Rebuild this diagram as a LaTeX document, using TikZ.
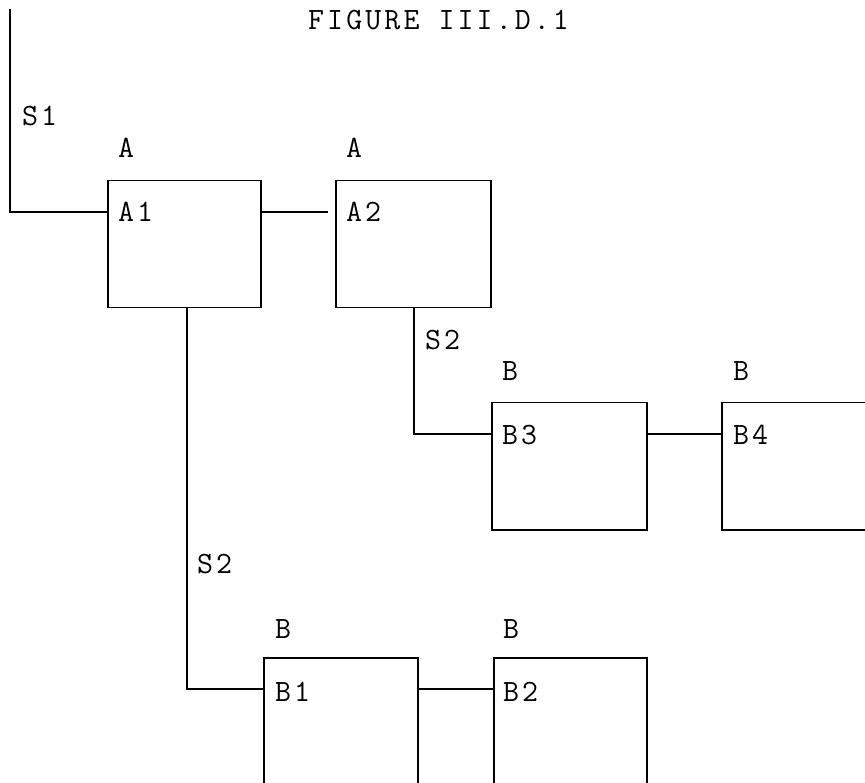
\documentclass[tikz,border=0pt]{standalone}
\usepackage{fontspec}
\setmonofont[LetterSpace=10]{Latin Modern Mono}
\begin{document}
\begin{tikzpicture}[x=1pt,y=-1pt,
  blk/.style={draw,line width=1.5pt,rectangle,inner sep=0pt,minimum width=154pt,minimum height=127pt,anchor=north west},
  lbl/.style={font=\ttfamily\fontsize{31}{34}\selectfont,inner sep=0pt,anchor=base west},
  wire/.style={line width=1.5pt}]
\useasboundingbox (0,0) rectangle (865,783);
\clip (0,0) rectangle (865,783);
\fill[white] (0,0) rectangle (865,783);
% title
\node[lbl] (title) at (308,30) {FIGURE III.D.1};
% boxes
\node[blk,minimum width=153pt] (A1) at (107,180) {};
\node[blk,minimum width=155pt] (A2) at (335,180) {};
\node[blk,minimum width=155pt] (B3) at (491,402) {};
\node[blk,minimum width=155pt] (B4) at (721,402) {};
\node[blk] (B1) at (263,657) {};
\node[blk,minimum width=153pt] (B2) at (493,657) {};
% type labels
\node[lbl] (tA1) at (118,158) {A};
\node[lbl] (tA2) at (346,158) {A};
\node[lbl] (tB3) at (502,381) {B};
\node[lbl] (tB4) at (733,381) {B};
\node[lbl] (tB1) at (275,638) {B};
\node[lbl] (tB2) at (503,638) {B};
% names inside
\node[lbl] (nA1) at (118,222) {A1};
\node[lbl] (nA2) at (346,222) {A2};
\node[lbl] (nB3) at (502,445) {B3};
\node[lbl] (nB4) at (733,445) {B4};
\node[lbl] (nB1) at (275,701) {B1};
\node[lbl] (nB2) at (503,701) {B2};
% set labels
\node[lbl] (s1) at (22,126) {S1};
\node[lbl] (s2a) at (425,350) {S2};
\node[lbl] (s2b) at (197,573) {S2};
% connectors
\coordinate (top) at (10,9);
\coordinate (pA1) at (107,212);
\coordinate (pA1e) at (260,212);
\coordinate (gapend) at (328,212);
\coordinate (pB3) at (491,434);
\coordinate (pB3e) at (646,434);
\coordinate (pB4) at (721,434);
\coordinate (pB1) at (263,689);
\coordinate (pB1e) at (417,689);
\coordinate (pB2) at (493,689);
\draw[wire] (top) |- (pA1);
\draw[wire] (pA1e) -- (gapend);
\draw[wire] (A2.south -| 414,0) |- (pB3);
\draw[wire] (pB3e) -- (pB4);
\draw[wire] (A1.south -| 187,0) |- (pB1);
\draw[wire] (pB1e) -- (pB2);
\end{tikzpicture}
\end{document}
